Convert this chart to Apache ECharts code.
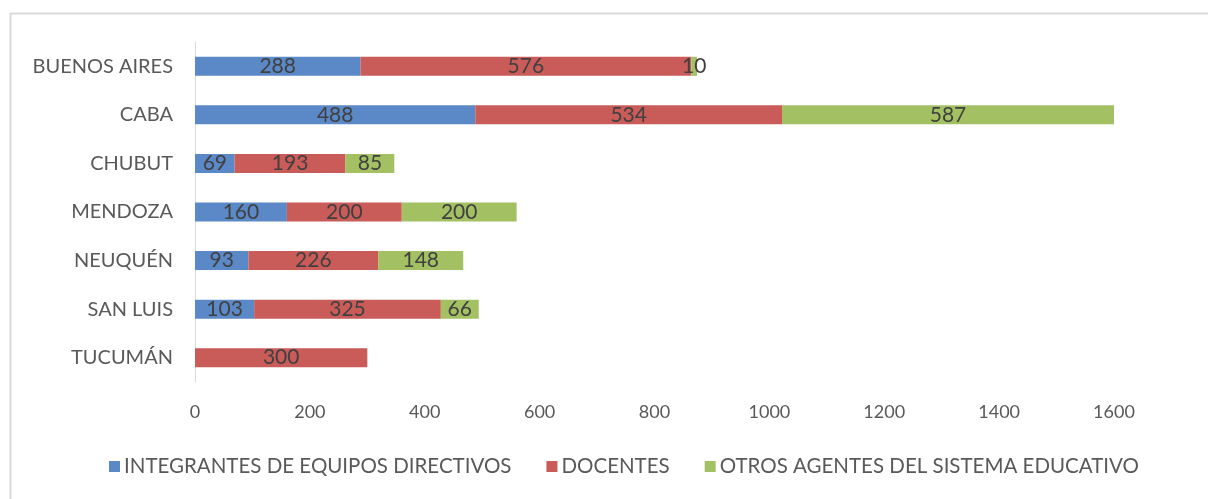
<!DOCTYPE html>
<html><head><meta charset="utf-8">
<script src="https://cdn.jsdelivr.net/npm/echarts@6/dist/echarts.min.js"></script>
<style>html,body{margin:0;padding:0;background:#fff}#c{width:1208px;height:499px}</style>
</head><body><div id="c"></div>
<script>
const categories = ['BUENOS AIRES','CABA','CHUBUT','MENDOZA','NEUQUÉN','SAN LUIS','TUCUMÁN'];
const seriesNames = ['INTEGRANTES DE EQUIPOS DIRECTIVOS','DOCENTES','OTROS AGENTES DEL SISTEMA EDUCATIVO'];
const directivos = [288, 488, 69, 160, 93, 103, null];
const docentes = [576, 534, 193, 200, 226, 325, 300];
const otros = [10, 587, 85, 200, 148, 66, null];
const xTicks = [0, 200, 400, 600, 800, 1000, 1200, 1400, 1600];
const colors = ['#5B88C6', '#C95B58', '#A3C163'];
const font = 'Lato, "Open Sans", sans-serif';

const chart = echarts.init(document.getElementById('c'));
const mk = (name, data, i) => ({
  name, type: 'bar', stack: 'total', data, barWidth: 19,
  itemStyle: { color: colors[i] },
  label: { show: true, position: 'inside', color: '#404040', fontSize: 21, fontFamily: font,
    formatter: p => p.value == null ? '' : String(p.value) },
  emphasis: { disabled: true }
});
chart.setOption({
  animation: false,
  textStyle: { fontFamily: font },
  graphic: [
    { type: 'line', shape: { x1: 10, y1: 13.5, x2: 1208, y2: 13.5 }, style: { stroke: '#d9d9d9', lineWidth: 2 } },
    { type: 'line', shape: { x1: 10.5, y1: 13, x2: 10.5, y2: 499 }, style: { stroke: '#d9d9d9', lineWidth: 2 } }
  ],
  grid: { left: 195, right: 94, top: 42, bottom: 117, containLabel: false },
  legend: {
    bottom: 17, left: 104, itemWidth: 11, itemHeight: 11, itemGap: 35, icon: 'rect',
    textStyle: { color: '#595959', fontSize: 20.5, fontFamily: font, padding: [0, 0, 0, -1] },
    data: seriesNames
  },
  xAxis: {
    type: 'value', min: xTicks[0], max: xTicks[xTicks.length - 1], interval: 200,
    axisLine: { show: false }, axisTick: { show: false }, splitLine: { show: false },
    axisLabel: { color: '#595959', fontSize: 18, margin: 21, fontFamily: font, formatter: v => String(v) }
  },
  yAxis: {
    type: 'category', data: categories, inverse: true,
    axisLine: { show: true, lineStyle: { color: '#d9d9d9', width: 1 } },
    axisTick: { show: false },
    axisLabel: { color: '#595959', fontSize: 20, margin: 22, fontFamily: font }
  },
  series: [mk(seriesNames[0], directivos, 0), mk(seriesNames[1], docentes, 1), mk(seriesNames[2], otros, 2)]
});
</script></body></html>
